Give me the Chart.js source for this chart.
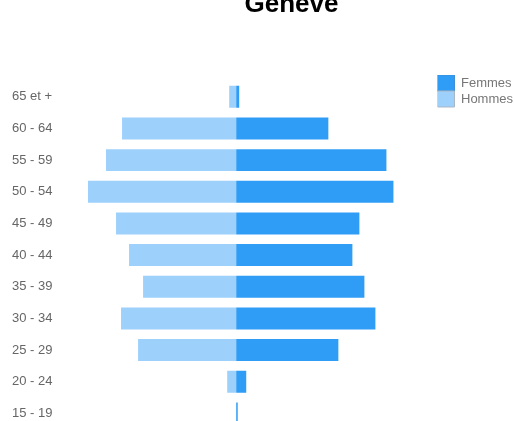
<!DOCTYPE html>
<html>
<head>
<meta charset="utf-8">
<script src="https://cdn.jsdelivr.net/npm/chart.js@4/dist/chart.umd.min.js"></script>
<style>
  html, body { margin: 0; padding: 0; overflow: hidden; background: #fff; }
  #pyramid { display: block; }
</style>
</head>
<body>
<canvas id="pyramid" width="515" height="440"></canvas>
<script>
const ageGroups = ["65 et +", "60 - 64", "55 - 59", "50 - 54", "45 - 49", "40 - 44",
  "35 - 39", "30 - 34", "25 - 29", "20 - 24", "15 - 19"];
const femmes = [3, 92, 150, 157, 123, 116, 128, 139, 102, 10, 1.5];
const hommes = [7, 114, 130, 148, 120, 107, 93, 115, 98, 9, 0];
const chartTitle = "Genève";

const FONT = "'Liberation Sans', Arial, sans-serif";

// title sits partly above the top edge, drawn by hand
const titlePlugin = {
  id: "topTitle",
  afterDraw(chart) {
    const ctx = chart.ctx;
    ctx.save();
    ctx.font = "bold 26px " + FONT;
    ctx.fillStyle = "#000";
    ctx.textAlign = "center";
    ctx.textBaseline = "alphabetic";
    ctx.fillText(chartTitle, 291.5, 12);
    ctx.restore();
  }
};

new Chart(document.getElementById("pyramid"), {
  type: "bar",
  data: {
    labels: ageGroups,
    datasets: [{
      label: "Femmes",
      data: femmes,
      backgroundColor: "#2f9cf6",
      borderWidth: 0,
      categoryPercentage: 1,
      barPercentage: 0.694
    }, {
      label: "Hommes",
      data: hommes.map(v => -v),
      backgroundColor: "#9dd0fb",
      borderWidth: 0,
      categoryPercentage: 1,
      barPercentage: 0.694
    }]
  },
  options: {
    indexAxis: "y",
    responsive: false,
    animation: false,
    devicePixelRatio: 1,
    layout: { padding: { left: 12, right: -8, top: 75, bottom: 0 } },
    scales: {
      x: {
        stacked: true,
        position: "top",
        min: -156,
        max: 201,
        grid: { display: false },
        border: { display: false },
        ticks: { display: false },
        afterFit(scale) { scale.height = 6; }
      },
      y: {
        stacked: true,
        grid: { display: false },
        border: { display: false },
        ticks: {
          crossAlign: "far",
          color: "#666",
          font: { family: FONT, size: 13 }
        },
        afterFit(scale) { scale.width = 68; }
      }
    },
    plugins: {
      legend: {
        position: "right",
        align: "start",
        labels: {
          boxWidth: 17,
          boxHeight: 16,
          padding: 0,
          color: "#777",
          font: { family: FONT, size: 13 },
          generateLabels(chart) {
            return chart.data.datasets.map((ds, i) => ({
              text: ds.label,
              fillStyle: ds.backgroundColor,
              strokeStyle: i === 0 ? "#3d8fd6" : "#a9b8c6",
              lineWidth: 1,
              fontColor: "#777",
              datasetIndex: i
            }));
          }
        }
      },
      tooltip: { enabled: false }
    }
  },
  plugins: [titlePlugin]
});
</script>
</body>
</html>
